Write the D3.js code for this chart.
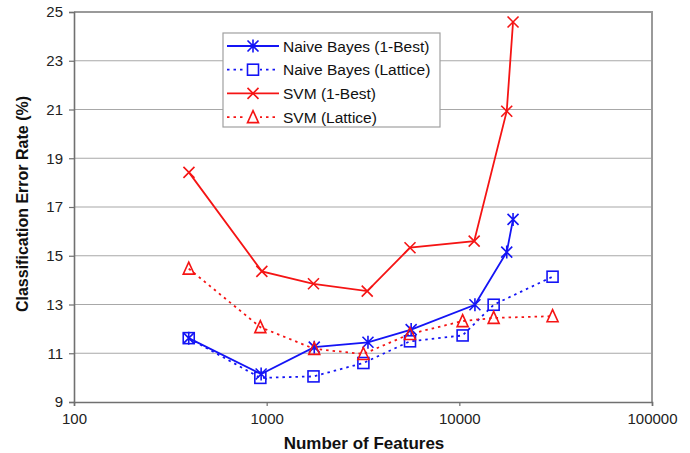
<!DOCTYPE html>
<html><head><meta charset="utf-8">
<script src="https://cdn.jsdelivr.net/npm/d3@7"></script>
<style>body{margin:0;background:#fff}svg{display:block;font-family:"Liberation Sans",Arial,sans-serif}</style>
</head><body><svg id="c" width="690" height="453"></svg>
<script>
const nb1Features = [394, 936, 1766, 3356, 5623, 12050, 17620, 19000];
const nb1Values   = [11.62, 10.15, 11.25, 11.45, 11.97, 12.99, 15.15, 16.49];
const nbLatFeatures = [394, 927, 1750, 3177, 5546, 10400, 15070, 30470];
const nbLatValues   = [11.62, 9.99, 10.05, 10.60, 11.49, 11.73, 12.99, 14.14];
const svm1Features = [395, 944, 1750, 3326, 5546, 11940, 17620, 19000];
const svm1Values   = [18.42, 14.36, 13.85, 13.55, 15.33, 15.60, 20.93, 24.59];
const svmLatFeatures = [394, 927, 1766, 3177, 5546, 10400, 15070, 30470];
const svmLatValues   = [14.47, 12.07, 11.18, 10.97, 11.79, 12.32, 12.45, 12.52];
const seriesNames = ["Naive Bayes (1-Best)", "Naive Bayes (Lattice)", "SVM (1-Best)", "SVM (Lattice)"];
const xTicks = [100, 1000, 10000, 100000];
const yTicks = [9, 11, 13, 15, 17, 19, 21, 23, 25];

const BLUE = "#1414f5", RED = "#f51414";
const series = [
  {name: seriesNames[0], xs: nb1Features, ys: nb1Values, color: BLUE, dash: null, marker: "star"},
  {name: seriesNames[1], xs: nbLatFeatures, ys: nbLatValues, color: BLUE, dash: "2.5,4", marker: "square"},
  {name: seriesNames[2], xs: svm1Features, ys: svm1Values, color: RED, dash: null, marker: "x"},
  {name: seriesNames[3], xs: svmLatFeatures, ys: svmLatValues, color: RED, dash: "2.5,4", marker: "tri"}
];

const L = 74, R = 652, T = 12, B = 402;
const svg = d3.select("#c");
const x = d3.scaleLog().domain([100, 100000]).range([L, R]);
const y = d3.scaleLinear().domain([9, 25]).range([B, T]);

// grid
svg.append("g").selectAll("line").data(yTicks.slice(1, -1)).join("line")
  .attr("x1", L).attr("x2", R).attr("y1", d => y(d)).attr("y2", d => y(d))
  .attr("stroke", "#a8a8a8").attr("stroke-width", 1.2);

// border top/right
svg.append("path").attr("d", `M${L},${T}H${R}V${B}`).attr("fill", "none")
  .attr("stroke", "#9a9a9a").attr("stroke-width", 2);

// y axis
const ya = svg.append("g").attr("transform", `translate(${L},0)`)
  .call(d3.axisLeft(y).tickValues(yTicks).tickSize(5).tickPadding(6).tickFormat(d3.format("d")));
ya.select(".domain").attr("stroke", "#707070").attr("stroke-width", 1.6);
ya.selectAll(".tick line").attr("stroke", "#707070").attr("stroke-width", 1.2);
ya.selectAll("text").attr("font-size", 15).attr("fill", "#222").attr("font-family", "Liberation Sans, Arial, sans-serif");

// x axis
const xa = svg.append("g").attr("transform", `translate(0,${B})`)
  .call(d3.axisBottom(x).tickValues(xTicks).tickSize(4).tickPadding(7).tickFormat(d3.format("d")));
xa.select(".domain").attr("stroke", "#707070").attr("stroke-width", 1.6);
xa.selectAll(".tick line").attr("stroke", "#707070").attr("stroke-width", 1.2);
xa.selectAll("text").attr("font-size", 15).attr("fill", "#222").attr("font-family", "Liberation Sans, Arial, sans-serif");

// axis titles
svg.append("text").attr("x", 364).attr("y", 449).attr("text-anchor", "middle")
  .attr("font-size", 17).attr("font-weight", "bold").attr("fill", "#111").text("Number of Features");
svg.append("text").attr("transform", "translate(28,204) rotate(-90)").attr("text-anchor", "middle")
  .attr("font-size", 16).attr("font-weight", "bold").attr("fill", "#111").text("Classification Error Rate (%)");

function drawMarker(g, type, color) {
  const s = 5.5;
  if (type === "star") {
    g.append("path").attr("d", `M${-s},${-s}L${s},${s}M${-s},${s}L${s},${-s}M0,${-s - 1}V${s + 1}`)
      .attr("stroke", color).attr("stroke-width", 1.6).attr("fill", "none");
  } else if (type === "square") {
    g.append("rect").attr("x", -s).attr("y", -s).attr("width", 2 * s).attr("height", 2 * s)
      .attr("stroke", color).attr("stroke-width", 1.6).attr("fill", "none");
  } else if (type === "x") {
    g.append("path").attr("d", `M${-s},${-s}L${s},${s}M${-s},${s}L${s},${-s}`)
      .attr("stroke", color).attr("stroke-width", 1.6).attr("fill", "none");
  } else {
    g.append("path").attr("d", `M0,${-s - 1}L${s},${s}L${-s},${s}Z`)
      .attr("stroke", color).attr("stroke-width", 1.6).attr("fill", "none");
  }
}

const line = d3.line().x(d => x(d[0])).y(d => y(d[1]));
const plot = svg.append("g");
series.forEach(s => {
  const pts = s.xs.map((v, i) => [v, s.ys[i]]);
  plot.append("path").datum(pts).attr("d", line).attr("fill", "none")
    .attr("stroke", s.color).attr("stroke-width", 1.8)
    .attr("stroke-dasharray", s.dash);
});
series.forEach(s => {
  s.xs.forEach((v, i) => {
    const g = plot.append("g").attr("transform", `translate(${x(v)},${y(s.ys[i])})`);
    drawMarker(g, s.marker, s.color);
  });
});

// legend
const lg = svg.append("g");
lg.append("rect").attr("x", 223).attr("y", 33).attr("width", 217).attr("height", 94)
  .attr("fill", "#fff").attr("stroke", "#a0a0a0").attr("stroke-width", 1.2);
series.forEach((s, i) => {
  const yy = 46 + i * 23.7;
  lg.append("line").attr("x1", 227).attr("x2", 279).attr("y1", yy).attr("y2", yy)
    .attr("stroke", s.color).attr("stroke-width", 1.8).attr("stroke-dasharray", s.dash);
  const g = lg.append("g").attr("transform", `translate(253,${yy})`);
  if (s.dash) g.append("rect").attr("x", -7).attr("y", -7).attr("width", 14).attr("height", 14).attr("fill", "#fff");
  drawMarker(g, s.marker, s.color);
  lg.append("text").attr("x", 283).attr("y", yy + 5.5).attr("font-size", 15.5).attr("fill", "#111").text(s.name);
});
</script></body></html>
